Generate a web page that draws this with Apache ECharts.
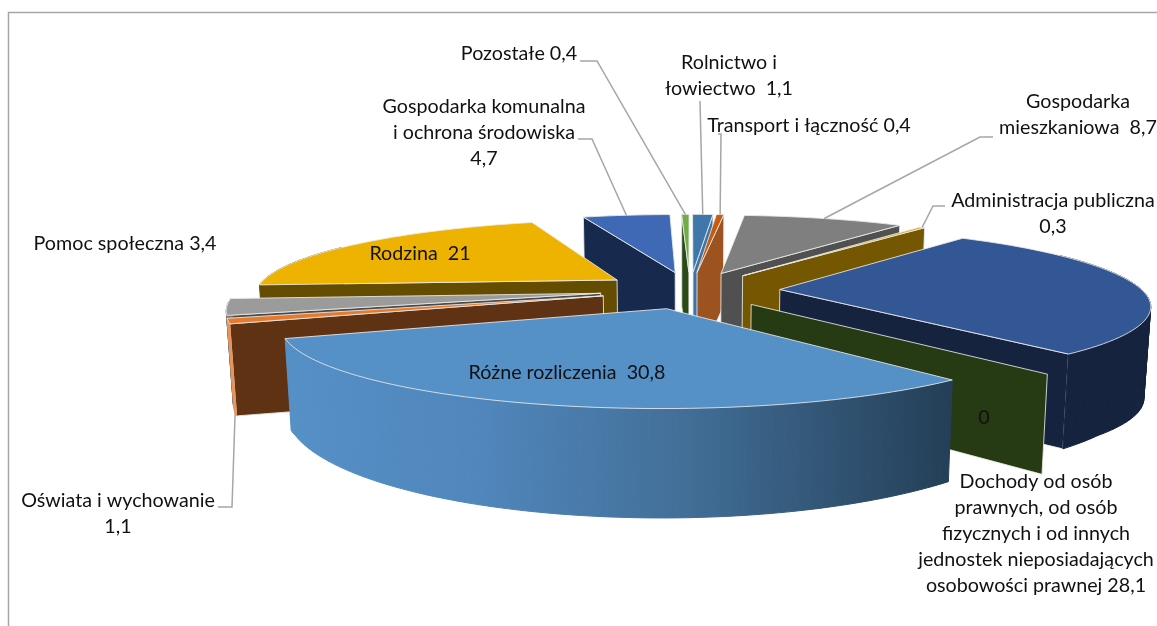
<!DOCTYPE html>
<html>
<head>
<meta charset="utf-8">
<style>
  html, body { margin: 0; padding: 0; background: #fff; }
  #main { width: 1157px; height: 626px; }
</style>
<script src="https://cdn.jsdelivr.net/npm/echarts@6/dist/echarts.min.js"></script>
</head>
<body>
<div id="main"></div>
<script>
// values, clockwise from 12 o'clock
var categories = ['Rolnictwo i łowiectwo', 'Transport i łączność', 'Gospodarka mieszkaniowa', 'Administracja publiczna',
    'Dochody od osób prawnych', 'Zero', 'Różne rozliczenia', 'Oświata i wychowanie', 'Pomoc społeczna', 'Rodzina',
    'Gospodarka komunalna i ochrona środowiska', 'Pozostałe'];
var values = [1.1, 0.4, 8.7, 0.3, 28.1, 0, 30.8, 1.1, 3.4, 21, 4.7, 0.4];
var labelTexts = ['Rolnictwo i\nłowiectwo  1,1', 'Transport i łączność 0,4', 'Gospodarka\nmieszkaniowa  8,7', 'Administracja publiczna\n0,3',
    'Dochody od osób\nprawnych, od osób\nfizycznych i od innych\njednostek nieposiadających\nosobowości prawnej 28,1', '0', 'Różne rozliczenia  30,8',
    'Oświata i wychowanie\n1,1', 'Pomoc społeczna 3,4', 'Rodzina  21',
    'Gospodarka komunalna\ni ochrona środowiska\n4,7', 'Pozostałe 0,4'];

// colours and label placement
var topColors = ['#3f77ab', '#c55a11', '#7f7f7f', '#dba81f', '#335695', '#263a14', '#5590c7', '#e57a2c', '#9b9b9b', '#eeb200', '#3f69b5', '#70ad47'];
var wallColors = ['#3f73a3', '#9c531f', '#505050', '#745700', '#16233f', '#263a14', '#243f57', '#5f3213', '#4a4a4a', '#644c00', '#172a4d', '#2a4a18'];
var outerColors = ['#3f73a3', '#9c531f', '#505050', '#745700', '#16233f', '#263a14', '#243f57', '#e9955a', '#7a7a7a', '#644c00', '#172a4d', '#2a4a18'];
var labelCenters = [[729, 76], [809, 126], [1078, 115], [1053, 214], [1036, 534], [984, 418], [567, 373], [118, 514], [125, 244], [420, 254], [484, 133], [519, 54]];
// leader lines: first two points beside the label, the third comes from the slice
var leaderStarts = [[[700, 101], [700, 101]], [[718, 134], [721, 134]], [[993, 137], [980, 137]], [[945, 206], [933, 206]], null, null, null,
    [[218, 507], [232, 507]], null, null, [[578, 139], [592, 139]], [[580, 61], [597, 61]]];

// pie geometry
var cx = 690, cy = 290, R = 362, explode = 90, tilt = 0.205, persp = 0.18, depth = 92;

var total = values.reduce(function (a, b) { return a + b; }, 0);
var slices = [];
var acc = 0;
values.forEach(function (v) {
    var a0 = acc / total * Math.PI * 2;
    acc += v;
    slices.push({ a0: a0, a1: acc / total * Math.PI * 2 });
});
slices.forEach(function (s) {
    var mid = (s.a0 + s.a1) / 2;
    s.ox = explode * Math.sin(mid);
    s.oy = explode * Math.cos(mid);
});

function project(X, Y, z) {
    var s = 1 / (1 + persp * Y / R);
    // the walls get a bit taller towards the front
    var h = depth * (1 + Math.max(0, s - 1.13) * 1.2);
    return [cx + X * s * (1 - 0.015 * z), cy - tilt * Y * s + h * z];
}
function rim(s, a, z) {
    return project(s.ox + R * Math.sin(a), s.oy + R * Math.cos(a), z);
}
function tip(s, z) {
    return project(s.ox, s.oy, z);
}
function arc(s, from, to, z) {
    var pts = [];
    var n = Math.max(1, Math.ceil((to - from) / 0.03));
    for (var j = 0; j <= n; j++) {
        pts.push(rim(s, from + (to - from) * j / n, z));
    }
    return pts;
}
function poly(pts, fill, stroke) {
    return { type: 'polygon', shape: { points: pts }, style: { fill: fill, stroke: stroke, lineWidth: 1, lineJoin: 'round' } };
}

var edge = 'rgba(235,235,235,0.85)';

function renderSlice(params, api) {
    var i = api.value(0);
    var s = slices[i];
    var kids = [];
    // only the cut faces that look towards the viewer
    if (s.a1 < Math.PI) {
        kids.push(poly([tip(s, 0), rim(s, s.a1, 0), rim(s, s.a1, 1), tip(s, 1)], wallColors[i], edge));
    }
    if (s.a0 > Math.PI) {
        kids.push(poly([tip(s, 0), rim(s, s.a0, 0), rim(s, s.a0, 1), tip(s, 1)], wallColors[i], edge));
    }
    // outer wall as small quads so the silhouette stays right at the far ends
    var from = Math.max(s.a0, Math.PI / 3), to = Math.min(s.a1, Math.PI * 5 / 3);
    if (to > from) {
        var fill = outerColors[i];
        if (i === 6) {
            fill = { type: 'linear', x: 283, y: 0, x2: 950, y2: 0, global: true,
                colorStops: [{ offset: 0, color: '#5590c7' }, { offset: 0.3, color: '#5086bb' }, { offset: 0.6, color: '#426f98' }, { offset: 1, color: '#243f57' }] };
        }
        var up = arc(s, from, to, 0), down = arc(s, from, to, 1);
        for (var j = 0; j < up.length - 1; j++) {
            kids.push(poly([up[j], up[j + 1], down[j + 1], down[j]], fill, fill));
        }
    }
    if (s.a1 > s.a0) {
        kids.push(poly([tip(s, 0)].concat(arc(s, s.a0, s.a1, 0)), topColors[i], edge));
    }
    return { type: 'group', children: kids };
}

// draw back slices first
var order = values.map(function (v, i) { return i; }).sort(function (a, b) { return slices[b].oy - slices[a].oy; });

var graphics = [
    { type: 'rect', shape: { x: 8.5, y: 12.5, width: 1160, height: 640 }, style: { fill: 'none', stroke: '#a6a6a6', lineWidth: 1.5 }, z: 0 }
];
leaderStarts.forEach(function (start, i) {
    if (!start) return;
    var s = slices[i];
    var mid = (s.a0 + s.a1) / 2;
    var end = rim(s, mid, i === 7 ? 1 : 0);
    graphics.push({ type: 'polyline', shape: { points: [start[0], start[1], end] }, style: { fill: 'none', stroke: '#a6a6a6', lineWidth: 1.5 }, z: 5 });
});
labelTexts.forEach(function (t, i) {
    graphics.push({ type: 'text', x: labelCenters[i][0], y: labelCenters[i][1], z: 10,
        style: { text: t, fill: '#111', font: '19.7px Lato', align: 'center', verticalAlign: 'middle', lineHeight: 26 } });
});

var chart = echarts.init(document.getElementById('main'));
chart.setOption({
    animation: false,
    backgroundColor: '#fff',
    graphic: graphics,
    series: [{
        type: 'custom',
        coordinateSystem: 'none',
        name: 'Udział',
        clip: false,
        renderItem: renderSlice,
        data: order.map(function (i) { return [i, values[i]]; })
    }]
});
</script>
</body>
</html>
